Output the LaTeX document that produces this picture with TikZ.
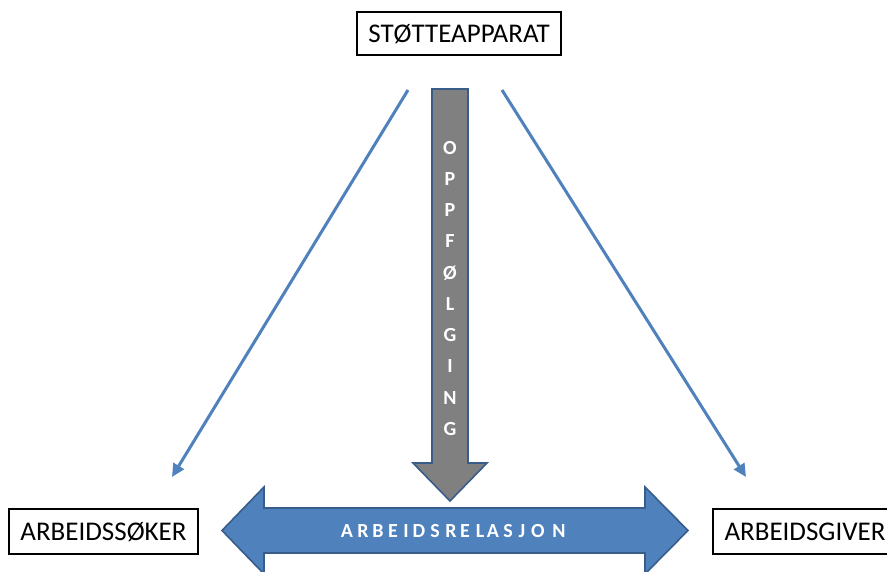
\documentclass[tikz,border=0pt]{standalone}
\usepackage{fontspec}
\setmainfont{Carlito}
\usetikzlibrary{arrows.meta}
\definecolor{accent}{RGB}{79,129,189}
\definecolor{accentdark}{RGB}{56,93,138}
\definecolor{arrowgray}{RGB}{128,128,128}
\begin{document}
\begin{tikzpicture}[x=1pt,y=-1pt,
  labelbox/.style={draw=black,line width=1.1pt,fill=white,inner sep=0pt,
    font=\fontsize{27}{30}\selectfont,text height=17.4pt,text depth=0pt},
  bigarrow/.style={line width=1.6pt,draw=accentdark,line join=miter},
  arrowletter/.style={text=white,inner sep=0pt,
    font=\fontsize{20}{22}\selectfont\bfseries,text height=12.8pt,text depth=0pt},
  link/.style={draw=accent,line width=3pt,-{Triangle[length=13pt,width=12pt]}}]
\useasboundingbox (0,0) rectangle (887,572);
\clip (0,0) rectangle (887,572);
\fill[white] (0,0) rectangle (887,572);

% boxes
\node[labelbox,minimum width=204pt,minimum height=43pt] (stotte) at (459,33.5) {STØTTEAPPARAT};
\node[labelbox,minimum width=189pt,minimum height=45pt] (soker) at (103.5,531.5) {ARBEIDSSØKER};
\node[labelbox,minimum width=184pt,minimum height=45pt] (giver) at (805,531.5) {ARBEIDSGIVER};

% horizontal double arrow
\path[bigarrow,fill=accent]
  (222,530.5) -- (264,487) -- (264,508) -- (645,508) -- (645,487) -- (688,530.5)
  -- (645,574) -- (645,553) -- (264,553) -- (264,574) -- cycle;
\foreach \l/\px in {A/347,R/363,B/378,E/393,I/406,D/419,S/435,R/451,E/465,L/480,A/493,S/508,J/522,O/538,N/559}
  \node[arrowletter] (h\px) at (\px,531) {\l};

% vertical arrow
\path[bigarrow,fill=arrowgray]
  (432,89) -- (468,89) -- (468,463) -- (487,463) -- (450,501) -- (413,463) -- (432,463) -- cycle;
\foreach \l [count=\i from 0] in {O,P,P,F,Ø,L,G,I,N,G}
  \node[arrowletter] (v\i) at (450,{148+31.2*\i}) {\l};

% diagonal links
\coordinate (lstart) at (408,90);
\coordinate (lend) at (172,477);
\coordinate (rstart) at (502,90);
\coordinate (rend) at (746,477);
\draw[link] (lstart) -- (lend);
\draw[link] (rstart) -- (rend);
\end{tikzpicture}
\end{document}
